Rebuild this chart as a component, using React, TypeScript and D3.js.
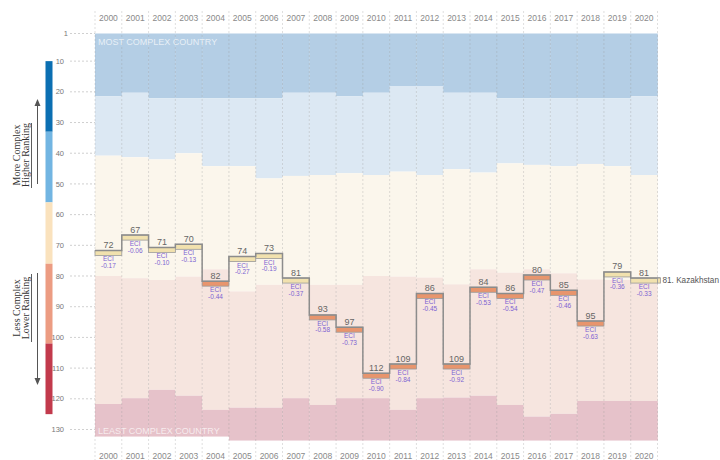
import React from 'react';
import * as d3 from 'd3';

const years = [2000, 2001, 2002, 2003, 2004, 2005, 2006, 2007, 2008, 2009, 2010, 2011, 2012, 2013, 2014, 2015, 2016, 2017, 2018, 2019, 2020];
const ranks = [72, 67, 71, 70, 82, 74, 73, 81, 93, 97, 112, 109, 86, 109, 84, 86, 80, 85, 95, 79, 81];
const eci = ['-0.17', '-0.06', '-0.10', '-0.13', '-0.44', '-0.27', '-0.19', '-0.37', '-0.58', '-0.73', '-0.90', '-0.84', '-0.45', '-0.92', '-0.53', '-0.54', '-0.47', '-0.46', '-0.63', '-0.36', '-0.33'];

// band boundaries (rank units) per year
const band1End = [21.4, 20.3, 22.1, 22.1, 22.1, 22.1, 22.1, 20.3, 20.3, 21.4, 20.3, 18.1, 18.1, 20.3, 20.3, 22.1, 22.1, 22.1, 22.1, 22.1, 21.4];
const band2End = [40.8, 41.3, 42.0, 40.0, 44.2, 44.2, 48.2, 47.4, 47.1, 46.5, 47.1, 46.0, 47.1, 45.2, 46.3, 43.3, 43.8, 44.2, 43.5, 44.2, 47.1];
const band3End = [80.0, 80.7, 81.3, 80.2, 77.8, 85.0, 82.9, 82.4, 82.9, 82.9, 80.0, 80.2, 80.5, 82.7, 77.8, 78.9, 77.8, 79.1, 81.1, 81.3, 81.5];
const band4End = [121.7, 119.8, 117.1, 119.0, 123.6, 122.9, 122.9, 119.8, 122.0, 119.8, 119.8, 123.6, 119.8, 119.6, 119.0, 122.0, 125.8, 124.9, 120.7, 120.7, 120.7];
const band5End = [132.3, 132.3, 132.3, 132.3, 132.3, 133.6, 133.6, 133.6, 133.6, 133.6, 133.6, 133.6, 133.6, 133.6, 133.6, 133.6, 133.6, 133.6, 133.6, 133.6, 133.6];
const bandColors = ['#b4cee5', '#dce8f3', '#fbf6ec', '#f6e5df', '#e6c2ca'];

const yTicks = [1, 10, 20, 30, 40, 50, 60, 70, 80, 90, 100, 110, 120, 130];
const legendBreaks = [10, 33, 56, 76, 102, 125];
const legendColors = ['#0b6fb2', '#72b5e2', '#fae2bd', '#ec9c82', '#c23a4c'];

const countryLabel = '81. Kazakhstan';

export default function App() {
  const x = d3.scaleBand<number>().domain(years).range([95, 657.5]).padding(0);
  const y = d3.scaleLinear().domain([1, 130]).range([33.5, 429.5]);
  const bw = x.bandwidth();
  const sans = 'Liberation Sans, Arial, sans-serif';
  const serif = 'Liberation Serif, Times New Roman, serif';

  const bounds = years.map((_, i) => [1, band1End[i], band2End[i], band3End[i], band4End[i], band5End[i]]);

  let stepD = '';
  years.forEach((yr, i) => {
    const x0 = x(yr)!;
    const yy = y(ranks[i]) - 1;
    stepD += i === 0 ? `M${x0},${yy}` : `V${yy}`;
    stepD += `H${x0 + bw}`;
  });
  stepD += `H${x(2020)! + bw + 3}`;

  const gridXs = years.map((yr) => x(yr)!).concat([x(2020)! + bw]);

  return (
    <svg width={720} height={460} style={{ position: 'absolute', left: 0, top: 0, background: '#fff' }}>
      {years.map((yr, i) =>
        bandColors.map((c, k) => (
          <rect key={`b${yr}-${k}`} x={x(yr)} width={bw + 0.3} y={y(bounds[i][k])} height={y(bounds[i][k + 1]) - y(bounds[i][k])} fill={c} />
        ))
      )}
      {gridXs.map((gx, i) => (
        <line key={`g${i}`} x1={gx} x2={gx} y1={11} y2={460} stroke="#9a9a9a" strokeOpacity={0.45} strokeWidth={0.7} strokeDasharray="2,2" />
      ))}
      {yTicks.map((t) => (
        <g key={`t${t}`}>
          <line x1={70} x2={95} y1={y(t)} y2={y(t)} stroke="#bbb" strokeWidth={0.7} strokeDasharray="2,2" />
          <text x={t === 1 ? 68 : 64} y={y(t)} dy="0.35em" textAnchor="end" fontSize={7.5} fill="#777" fontFamily={sans}>{t}</text>
        </g>
      ))}
      {years.map((yr) => (
        <g key={`yl${yr}`}>
          <text x={x(yr)! + bw / 2} y={20.5} textAnchor="middle" fontSize={8.5} fill="#8a8a8a" fontFamily={sans}>{yr}</text>
          <text x={x(yr)! + bw / 2} y={459} textAnchor="middle" fontSize={8.5} fill="#8a8a8a" fontFamily={sans}>{yr}</text>
        </g>
      ))}
      <text x={98} y={45} fontSize={9} fill="#ffffff" fillOpacity={0.7} fontFamily={sans}>MOST COMPLEX COUNTRY</text>
      <text x={98} y={434} fontSize={9} fill="#ffffff" fillOpacity={0.7} fontFamily={sans}>LEAST COMPLEX COUNTRY</text>

      {years.map((yr, i) => (
        <rect key={`h${yr}`} x={x(yr)} width={bw} y={y(ranks[i]) - 1} height={5} fill={ranks[i] <= band3End[i] ? '#f1e1ae' : '#e8956d'} stroke="#9a9a9a" strokeWidth={0.8} />
      ))}
      <path d={stepD} fill="none" stroke="#8c8c8c" strokeWidth={1.5} />
      <rect x={x(2020)! + bw} y={y(81) - 1} width={3} height={5} fill="#f1e1ae" stroke="#9a9a9a" strokeWidth={0.8} />

      {years.map((yr, i) => {
        const cx = x(yr)! + bw / 2;
        const yy = y(ranks[i]);
        return (
          <g key={`l${yr}`} fontFamily={sans} textAnchor="middle">
            <text x={cx} y={yy - 3.5} fontSize={9} fill="#666">{ranks[i]}</text>
            <text x={cx} y={yy + 10} fontSize={6.5} fill="#7d63d2">ECI</text>
            <text x={cx} y={yy + 16.5} fontSize={6.5} fill="#7d63d2">{eci[i]}</text>
          </g>
        );
      })}
      <text x={662.5} y={y(81) + 3.5} fontSize={8.2} fill="#555" fontFamily={sans}>{countryLabel}</text>

      {legendColors.map((c, k) => (
        <rect key={`lg${k}`} x={45.5} width={7} y={y(legendBreaks[k])} height={y(legendBreaks[k + 1]) - y(legendBreaks[k])} fill={c} />
      ))}
      <g fontFamily={serif} fontSize={10} fill="#333" textAnchor="middle">
        <text transform={`translate(16.5,155) rotate(-90)`} dy="0.35em">More Complex</text>
        <text transform={`translate(25.5,155) rotate(-90)`} dy="0.35em">Higher Ranking</text>
        <text transform={`translate(16.5,308) rotate(-90)`} dy="0.35em">Less Complex</text>
        <text transform={`translate(25.5,308) rotate(-90)`} dy="0.35em">Lower Ranking</text>
      </g>
      <line x1={31.5} x2={31.5} y1={123} y2={188} stroke="#333" strokeWidth={0.8} />
      <line x1={31.5} x2={31.5} y1={274} y2={342} stroke="#333" strokeWidth={0.8} />
      <line x1={37.5} x2={37.5} y1={104} y2={184} stroke="#555" strokeWidth={1} />
      <path d="M34.5,106 L37.5,99 L40.5,106 Z" fill="#555" />
      <line x1={37.5} x2={37.5} y1={273} y2={380} stroke="#555" strokeWidth={1} />
      <path d="M34.5,378 L37.5,385 L40.5,378 Z" fill="#555" />
    </svg>
  );
}
